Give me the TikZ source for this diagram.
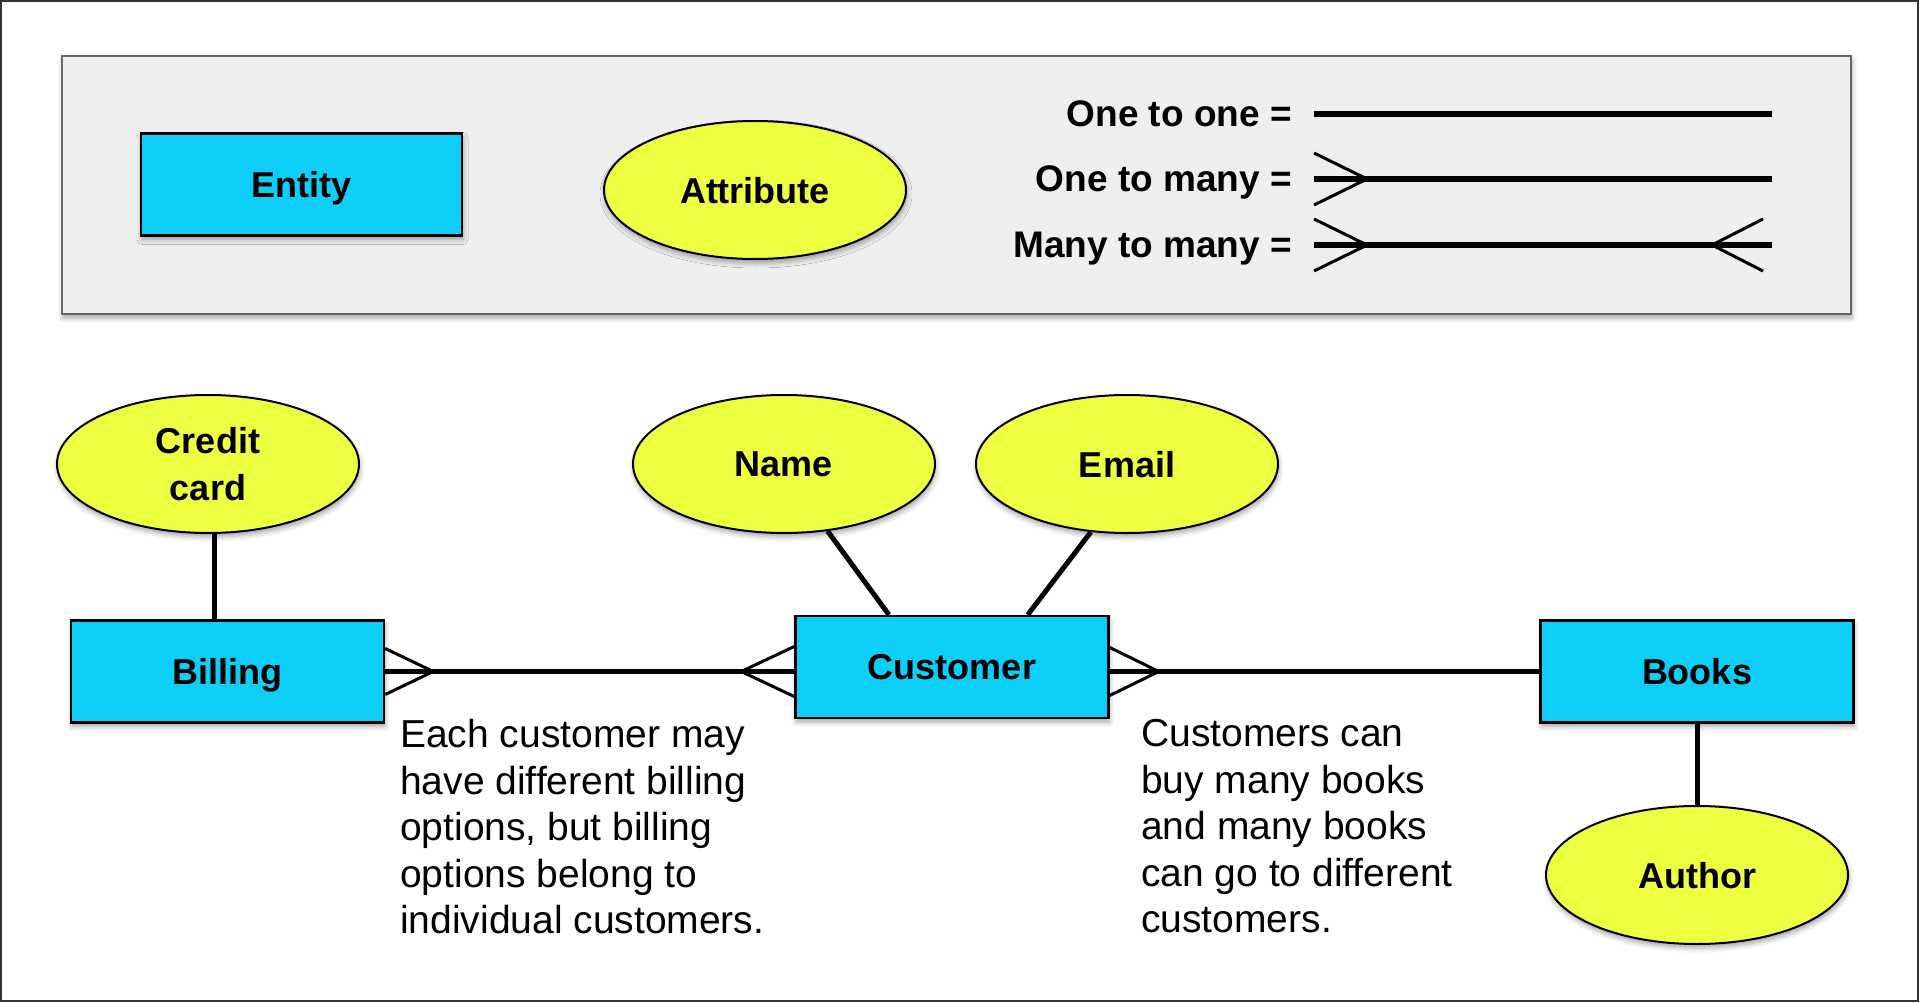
\documentclass[tikz,border=0pt]{standalone}
\usepackage{fontspec}
\setmainfont{Liberation Sans}
\usepackage{xcolor}
\usetikzlibrary{arrows.meta, positioning, shapes.geometric, shadows.blur, calc}

\definecolor{entitycyan}{RGB}{12,206,247}
\definecolor{attryellow}{RGB}{238,255,65}
\definecolor{legendgray}{RGB}{238,238,238}

\tikzset{
  softshadow/.style={blur shadow={shadow xshift=1pt, shadow yshift=-4pt, shadow blur radius=5pt, shadow opacity=35}},
  entity/.style={draw=black, line width=2.5pt, fill=entitycyan, minimum width=313pt, minimum height=102pt,
    text depth=0pt, font=\fontsize{36}{46.5}\selectfont\bfseries, softshadow},
  attribute/.style={ellipse, draw=black, line width=2pt, fill=attryellow, minimum width=302pt, minimum height=138pt,
    inner sep=0pt, text depth=0pt, align=center, font=\fontsize{36}{46.5}\selectfont\bfseries, softshadow},
  legendlabel/.style={anchor=mid east, inner sep=0pt, font=\fontsize{37}{46.5}\selectfont\bfseries},
  link/.style={line width=5pt},
  crow/.style={line width=3pt},
  note/.style={anchor=north west, align=left, inner sep=0pt, font=\fontsize{39}{46.6}\selectfont},
}

\begin{document}
\begin{tikzpicture}[x=1pt, y=-1pt]
    \useasboundingbox (0,0) rectangle (1920,1003);
    % Outer frame
    \draw[line width=2pt, draw=black!80] (1,1) rectangle (1918,1001);

    % Legend panel
    \node[draw=black!60, line width=2pt, fill=legendgray, anchor=north west, inner sep=0pt,
          minimum width=1789pt, minimum height=258pt, softshadow] (legend) at (61,55) {};
    \node[entity, minimum width=321pt] (entity) at (301.5,184.5) {Entity};
    \node[attribute] (attribute) at (755,190) {Attribute};

    \node[legendlabel] (onetoone) at (1292,124) {One to one =};
    \node[legendlabel] (onetomany) at (1292,189) {One to many =};
    \node[legendlabel] (manytomany) at (1292,255) {Many to many =};

    \coordinate (oneA) at (1314,114);  \coordinate (oneB) at (1772,114);
    \coordinate (manyA) at (1314,179); \coordinate (manyB) at (1772,179);
    \coordinate (bothA) at (1314,245); \coordinate (bothB) at (1772,245);

    \draw[link, line width=6pt] (oneA) -- (oneB);
    \draw[link, line width=6pt] (manyA) -- (manyB);
    \draw[crow] ($(manyA)+(0,-26)$) -- ($(manyA)+(53,0)$) -- ($(manyA)+(0,26)$);
    \draw[link, line width=6pt] (bothA) -- (bothB);
    \draw[crow] ($(bothA)+(0,-26)$) -- ($(bothA)+(53,0)$) -- ($(bothA)+(0,26)$);
    \draw[crow] ($(bothB)+(-9,-26)$) -- ($(bothB)+(-60,0)$) -- ($(bothB)+(-9,26)$);

    % Attributes
    \node[attribute] (credit) at (208,464) {Credit\\card};
    \node[attribute] (name) at (784,464) {Name};
    \node[attribute] (email) at (1127,464) {Email};

    % Entities
    \node[entity] (billing) at (227.5,671.5) {Billing};
    \node[entity] (customer) at (952,667) {Customer};
    \node[entity] (books) at (1697,671.5) {Books};
    \node[attribute] (author) at (1697,875) {Author};

    % Attribute links
    \coordinate (ccfoot) at ($(billing.north west)!0.46!(billing.north east)$);
    \draw[link] (credit.south -| ccfoot) -- (ccfoot);
    \draw[link] (name.303) -- ($(customer.north west)!0.3!(customer.north east)$);
    \draw[link] (email.242) -- ($(customer.north west)!0.74!(customer.north east)$);
    \draw[link] (books.south) -- (author.north);

    % Relationships
    \coordinate (custL) at (billing.east -| customer.west);
    \coordinate (custR) at (billing.east -| customer.east);
    \draw[link] (billing.east) -- (custL);
    \draw[crow] ($(billing.east)+(0,-23)$) -- ($(billing.east)+(48,0)$) -- ($(billing.east)+(0,23)$);
    \draw[crow] ($(custL)+(0,-25)$) -- ($(custL)+(-53,0)$) -- ($(custL)+(0,25)$);
    \draw[link] (custR) -- (books.west);
    \draw[crow] ($(custR)+(0,-24)$) -- ($(custR)+(49,0)$) -- ($(custR)+(0,24)$);

    % Notes
    \node[note] (billingnote) at (400,719) {Each customer may\\have different billing\\options, but billing\\options belong to\\individual customers.};
    \node[note] (booksnote) at (1141,719) {Customers can\\buy many books\\and many books\\can go to different\\customers.};
\end{tikzpicture}
\end{document}
